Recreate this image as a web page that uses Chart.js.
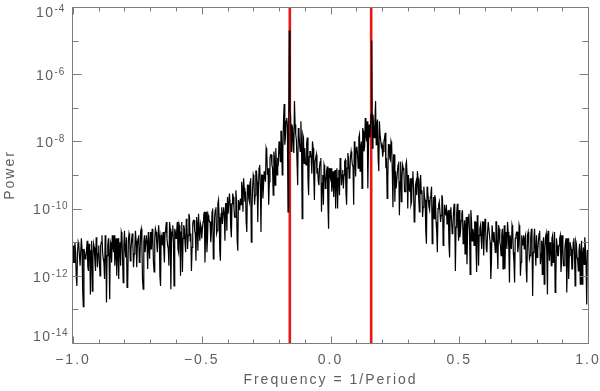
<!DOCTYPE html>
<html>
<head>
<meta charset="utf-8">
<script src="https://cdn.jsdelivr.net/npm/chart.js@4.4.1/dist/chart.umd.min.js"></script>
<style>
html,body{margin:0;padding:0;background:#ffffff;overflow:hidden;}
#wrap{width:600px;height:391px;}
</style>
</head>
<body>
<div id="wrap"><canvas id="c" width="600" height="391"></canvas></div>
<script>
// ---- data ----
const freqStart = -1.0;   // first frequency sample
const freqStep = 0.005;   // spacing of the main frequency grid
// power at f = -1.000, -0.995, ..., 1.000
const powerOnGrid = [
  8e-12, 2.5e-12, 5e-12, 5e-13, 1e-11, 4e-12, 2e-12, 6.3e-12, 1.2e-13, 5e-12,
  3.5e-12, 1.1e-11, 1.4e-12, 7e-12, 5.6e-12, 3.5e-13, 9e-12, 2.8e-12, 1.4e-11, 1.8e-12,
  8e-12, 1e-12, 1e-11, 5e-12, 2.5e-12, 1.6e-11, 1.6e-13, 8e-12, 4e-12, 1e-11,
  2.5e-12, 8e-12, 1.6e-11, 4e-12, 1e-12, 1.3e-11, 8e-12, 2e-12, 1.6e-11, 6.3e-13,
  2.2e-11, 3.5e-12, 4.5e-13, 1.1e-11, 1.4e-11, 5.6e-12, 1.8e-11, 1.8e-12, 7e-12, 1.1e-11,
  8e-12, 1.6e-11, 3.2e-12, 2.5e-11, 8e-13, 1e-11, 5e-12, 1.6e-11, 1.6e-12, 2e-11,
  2e-11, 6.3e-12, 1.3e-11, 1.3e-12, 2.5e-11, 1e-11, 5e-12, 1.6e-11, 5e-13, 1.3e-11,
  2e-11, 2.5e-12, 2.5e-11, 1.3e-11, 6.3e-12, 4e-11, 4e-13, 2e-11, 1e-11, 2.5e-11,
  1.3e-11, 4e-11, 5e-12, 2.5e-11, 2e-11, 1.3e-12, 3.2e-11, 1e-11, 5e-11, 6.3e-12,
  7e-11, 1.1e-11, 1.4e-12, 3.5e-11, 4.5e-11, 1.8e-11, 5.6e-11, 5.6e-12, 2.2e-11, 3.5e-11,
  1.3e-11, 4e-11, 8e-11, 2e-11, 5e-12, 6.3e-11, 4e-11, 1e-11, 8e-11, 3.2e-12,
  5.6e-11, 1.1e-10, 2.2e-11, 1.8e-10, 5.6e-12, 7e-11, 3.5e-11, 1.1e-10, 1.1e-11, 1.4e-10,
  2.2e-10, 7e-11, 1.4e-10, 1.4e-11, 2.8e-10, 1.1e-10, 5.6e-11, 1.8e-10, 5.6e-12, 1.4e-10,
  2e-10, 6.3e-10, 8e-11, 4e-10, 3.2e-10, 2e-11, 5e-10, 1.6e-10, 8e-10, 1e-10,
  1e-9, 1.3e-10, 1.3e-9, 6.3e-10, 3.2e-10, 2e-9, 2e-11, 1e-9, 5e-10, 1.3e-9,
  6.3e-9, 1e-9, 1.3e-10, 3.2e-9, 4e-9, 1.6e-9, 5e-9, 5e-10, 2e-9, 3.2e-9,
  1e-8, 2.5e-9, 2e-8, 5e-9, 1.3e-7, 1.3e-8, 5e-8, 8e-11, 2e-5, 6.3e-8,
  3.2e-8, 1e-8, 1.6e-7, 1.6e-8, 2.5e-9, 2.5e-8, 8e-9, 4e-8, 5e-11, 1.3e-8,
  6.3e-9, 2e-9, 1.3e-8, 2.5e-10, 5e-9, 3.2e-9, 1e-8, 1e-9, 2.5e-9, 4e-9,
  1.6e-9, 5e-10, 2.5e-9, 8e-11, 1e-9, 2e-9, 4e-10, 1.3e-9, 1.3e-10, 1.6e-9,
  8e-10,
  3.2e-10, 1.3e-9, 6.3e-10, 1e-10, 1.6e-9, 8e-10, 2.5e-10, 2e-9, 1e-9, 4e-10,
  2.5e-9, 3.2e-10, 1.6e-9, 3.2e-9, 1e-9, 5e-9, 2e-9, 1.3e-10, 4e-9, 6.3e-9,
  4e-9, 1.3e-8, 1.3e-9, 1e-8, 2.5e-8, 5e-9, 5e-8, 1e-8, 4e-10, 3.2e-8,
  2.5e-8, 1e-5, 6.3e-8, 1.3e-8, 1.6e-7, 3.2e-8, 3.2e-9, 4e-8, 1.6e-8, 8e-9,
  5e-9, 1.3e-8, 1.6e-9, 2e-10, 8e-9, 3.2e-9, 1e-8, 1.3e-9, 4e-9, 1.6e-10,
  4e-10, 1.3e-9, 2.5e-9, 6.3e-10, 1.6e-10, 2e-9, 1.3e-9, 3.2e-10, 2.5e-9, 1e-10,
  4e-10, 8e-10, 1.6e-10, 1.3e-9, 4e-11, 5e-10, 2.5e-10, 8e-10, 8e-11, 1e-9,
  3.5e-10, 1.1e-10, 2.2e-10, 2.2e-11, 4.5e-10, 1.8e-10, 9e-11, 2.8e-10, 9e-12, 2.2e-10,
  2.5e-10, 4e-11, 5e-12, 1.3e-10, 1.6e-10, 6.3e-11, 2e-10, 2e-11, 8e-11, 1.3e-10,
  7e-11, 9e-12, 9e-11, 4.5e-11, 2.2e-11, 1.4e-10, 1.4e-12, 7e-11, 3.5e-11, 9e-11,
  2.2e-11, 7e-11, 9e-12, 4.5e-11, 3.5e-11, 2.2e-12, 5.6e-11, 1.8e-11, 9e-11, 1.1e-11,
  2e-11, 4e-11, 8e-12, 6.3e-11, 2e-12, 2.5e-11, 1.3e-11, 4e-11, 4e-12, 5e-11,
  6.3e-12, 2e-11, 4e-11, 1e-11, 2.5e-12, 3.2e-11, 2e-11, 5e-12, 4e-11, 1.6e-12,
  2.5e-11, 8e-12, 1.6e-11, 1.6e-12, 3.2e-11, 1.3e-11, 6.3e-12, 2e-11, 6.3e-13, 1.6e-11,
  3.2e-11, 5e-12, 6.3e-13, 1.6e-11, 2e-11, 8e-12, 2.5e-11, 2.5e-12, 1e-11, 1.6e-11,
  1.3e-11, 1.6e-12, 1.6e-11, 8e-12, 4e-12, 2.5e-11, 2.5e-13, 1.3e-11, 6.3e-12, 1.6e-11,
  5.6e-12, 1.8e-11, 2.2e-12, 1.1e-11, 9e-12, 5.6e-13, 1.4e-11, 4.5e-12, 2.2e-11, 2.8e-12,
  6.3e-12, 1.3e-11, 2.5e-12, 2e-11, 6.3e-13, 8e-12, 4e-12, 1.3e-11, 1.3e-12, 1.6e-11,
  2e-12, 6.3e-12, 1.3e-11, 3.2e-12, 8e-13, 1e-11, 6.3e-12, 1.6e-12, 1.3e-11, 5e-13,
  9e-12, 2.8e-12, 5.6e-12, 5.6e-13, 1.1e-11, 4.5e-12, 2.2e-12, 7e-12, 1.4e-13, 5.6e-12
];
// power at the half-steps f = -0.9975, -0.9925, ..., 0.9975
const powerHalfGrid = [
  2.5e-12, 1e-11, 1e-12, 5e-12, 8e-12, 2e-12, 1.3e-11, 4e-13, 6.3e-12, 3.2e-12,
  5.6e-12, 1.8e-12, 9e-12, 2.8e-13, 1.1e-11, 3.5e-12, 7e-12, 1.4e-12, 9e-12, 4.5e-12,
  2.5e-12, 8e-12, 1.6e-11, 3.2e-12, 8e-13, 1e-11, 4e-12, 1.3e-11, 2e-13, 8e-12,
  1.6e-11, 5e-12, 2e-12, 1.3e-11, 6.3e-12, 8e-13, 1e-11, 2e-11, 3.2e-12, 8e-12,
  5.6e-12, 1.4e-11, 5.6e-13, 1.8e-11, 2.8e-12, 1.1e-11, 9e-12, 4.5e-12, 2.2e-11, 1.8e-12,
  1.3e-11, 2.5e-12, 2e-11, 8e-12, 4e-13, 1.6e-11, 5e-12, 1e-11, 2e-11, 3.2e-12,
  6.3e-12, 2.5e-11, 2.5e-12, 1.3e-11, 2e-11, 5e-12, 3.2e-11, 1e-12, 1.6e-11, 8e-12,
  6.3e-12, 2e-11, 4e-11, 8e-12, 2e-12, 2.5e-11, 1e-11, 3.2e-11, 5e-13, 2e-11,
  2e-11, 6.3e-12, 3.2e-11, 1e-12, 4e-11, 1.3e-11, 2.5e-11, 5e-12, 3.2e-11, 1.6e-11,
  5.6e-11, 1.8e-11, 7e-12, 4.5e-11, 2.2e-11, 2.8e-12, 3.5e-11, 7e-11, 1.1e-11, 2.8e-11,
  2.5e-11, 6.3e-11, 2.5e-12, 8e-11, 1.3e-11, 5e-11, 4e-11, 2e-11, 1e-10, 8e-12,
  9e-11, 1.8e-11, 1.4e-10, 5.6e-11, 2.8e-12, 1.1e-10, 3.5e-11, 7e-11, 1.4e-10, 2.2e-11,
  7e-11, 2.8e-10, 2.8e-11, 1.4e-10, 2.2e-10, 5.6e-11, 3.5e-10, 1.1e-11, 1.8e-10, 9e-11,
  1.3e-10, 4e-10, 8e-10, 1.6e-10, 4e-11, 5e-10, 2e-10, 6.3e-10, 1e-11, 4e-10,
  8e-10, 2.5e-10, 1.3e-9, 4e-11, 1.6e-9, 5e-10, 1e-9, 2e-10, 1.3e-9, 6.3e-10,
  5e-9, 1.6e-9, 6.3e-10, 4e-9, 2e-9, 2.5e-10, 3.2e-9, 6.3e-9, 1e-9, 2.5e-9,
  6.3e-9, 2e-8, 1e-9, 4e-8, 8e-9, 4e-8, 3.2e-8, 1.6e-8, 8e-8, 5e-9,
  2.5e-8, 4.5e-9, 3.2e-8, 1.1e-8, 5e-10, 1.8e-8, 5e-9, 9e-9, 1.6e-8, 2.2e-9,
  2.5e-9, 9e-9, 8e-10, 3.5e-9, 5e-9, 1.1e-9, 6.3e-9, 1.8e-10, 2.5e-9, 1.1e-9,
  6.3e-10, 1.8e-9, 3.2e-9, 5.6e-10, 1.3e-10, 1.6e-9, 5.6e-10, 1.8e-9, 2.5e-11, 1e-9,
  1.6e-9, 5e-10, 2.2e-10, 1.4e-9, 8e-10, 1e-10, 1.4e-9, 3.2e-9, 5e-10, 1.4e-9,
  1e-9, 2.8e-9, 1.3e-10, 4.5e-9, 8e-10, 3.5e-9, 3.2e-9, 1.8e-9, 1e-8, 9e-10,
  7e-9, 1.6e-9, 1.6e-8, 7e-9, 4e-10, 2e-8, 7e-9, 1.6e-8, 4e-8, 7e-9,
  1.3e-8, 6.3e-8, 6.3e-9, 2.8e-8, 4e-8, 8e-9, 4.5e-8, 1.3e-9, 1.6e-8, 7e-9,
  3.5e-9, 1e-8, 1.8e-8, 3.2e-9, 7e-10, 8e-9, 2.8e-9, 8e-9, 1.1e-10, 4e-9,
  1.3e-9, 4e-10, 2e-9, 6.3e-11, 2.5e-9, 8e-10, 1.6e-9, 3.2e-10, 2e-9, 1e-9,
  1e-9, 3.2e-10, 1.3e-10, 8e-10, 4e-10, 5e-11, 6.3e-10, 1.3e-9, 2e-10, 5e-10,
  2.8e-10, 5.6e-11, 4.5e-10, 1.8e-10, 9e-12, 3.5e-10, 1.1e-10, 2.2e-10, 4.5e-10, 7e-11,
  5e-11, 2e-10, 2e-11, 1e-10, 1.6e-10, 4e-11, 2.5e-10, 8e-12, 1.3e-10, 6.3e-11,
  3.5e-11, 9e-11, 3.5e-12, 1.1e-10, 1.8e-11, 7e-11, 5.6e-11, 2.8e-11, 1.4e-10, 1.1e-11,
  1.4e-11, 4.5e-11, 9e-11, 1.8e-11, 4.5e-12, 5.6e-11, 2.2e-11, 7e-11, 1.1e-12, 4.5e-11,
  2.5e-11, 8e-12, 4e-11, 1.3e-12, 5e-11, 1.6e-11, 3.2e-11, 6.3e-12, 4e-11, 2e-11,
  2.5e-11, 5e-12, 4e-11, 1.6e-11, 8e-13, 3.2e-11, 1e-11, 2e-11, 4e-11, 6.3e-12,
  3.2e-11, 1e-11, 4e-12, 2.5e-11, 1.3e-11, 1.6e-12, 2e-11, 4e-11, 6.3e-12, 1.6e-11,
  6.3e-12, 2.5e-11, 2.5e-12, 1.3e-11, 2e-11, 5e-12, 3.2e-11, 1e-12, 1.6e-11, 8e-12,
  6.3e-12, 1.6e-11, 6.3e-13, 2e-11, 3.2e-12, 1.3e-11, 1e-11, 5e-12, 2.5e-11, 2e-12,
  3.5e-12, 1.1e-11, 2.2e-11, 4.5e-12, 1.1e-12, 1.4e-11, 5.6e-12, 1.8e-11, 2.8e-13, 1.1e-11,
  1e-11, 2e-12, 1.6e-11, 6.3e-12, 3.2e-13, 1.3e-11, 4e-12, 8e-12, 1.6e-11, 2.5e-12,
  6.3e-12, 2e-12, 1e-11, 3.2e-13, 1.3e-11, 4e-12, 8e-12, 1.6e-12, 1e-11, 5e-12,
  1.1e-11, 3.5e-12, 1.4e-12, 9e-12, 4.5e-12, 5.6e-13, 7e-12, 1.4e-11, 2.2e-12, 5.6e-12
];
const markerFreqs = [-0.158, 0.158];          // red vertical lines
const xTickValues = [-1, -0.5, 0, 0.5, 1];
const xTickLabels = ['\u22121.0', '\u22120.5', '0.0', '0.5', '1.0'];
const yTickExponents = [-4, -6, -8, -10, -12, -14];
const yMin = 1e-14, yMax = 1e-4;
const xTitleText = 'Frequency = 1/Period';
const yTitleText = 'Power';

// ---- styling ----
const axisColor = '#7c7c7c';
const textColor = '#5e5e5e';
const fontFamily = '"Liberation Sans", Arial, Helvetica, sans-serif';

// interleave the grid and half-step samples in frequency order
const spectrum = [];
powerOnGrid.forEach((p, i) => {
  const f = freqStart + i * freqStep;
  spectrum.push({ x: f, y: p });
  if (i < powerHalfGrid.length) spectrum.push({ x: f + freqStep / 2, y: powerHalfGrid[i] });
});

const markerSets = markerFreqs.map(f => ({
  data: [{ x: f, y: yMin }, { x: f, y: yMax }],
  borderColor: 'rgb(228,24,24)',
  borderWidth: 2.6,
  pointRadius: 0,
  fill: false
}));

const idlAxes = {
  id: 'idlAxes',
  beforeDraw(chart) {
    chart.ctx.letterSpacing = '2px';
  },
  afterDraw(chart) {
    const { ctx, chartArea: a, scales: { x, y } } = chart;
    ctx.save();
    ctx.letterSpacing = '0px';
    ctx.strokeStyle = axisColor;
    ctx.lineWidth = 1;
    const L = Math.round(a.left) - 0.5, R = Math.round(a.right) + 0.5;
    const T = Math.round(a.top) + 0.5, B = Math.round(a.bottom) + 0.5;
    ctx.beginPath();
    ctx.rect(L, T, R - L, B - T);
    for (let i = -10; i <= 10; i++) {
      const px = Math.round(x.getPixelForValue(i / 10)) + 0.5;
      const len = (i % 5 === 0) ? 7 : 4;
      ctx.moveTo(px, B); ctx.lineTo(px, B - len);
      ctx.moveTo(px, T); ctx.lineTo(px, T + len);
    }
    for (let e = -14; e <= -4; e++) {
      const py = Math.round(y.getPixelForValue(Math.pow(10, e))) + 0.5;
      const len = (e % 2 === 0) ? 9 : 6;
      ctx.moveTo(L, py); ctx.lineTo(L + len, py);
      ctx.moveTo(R, py); ctx.lineTo(R - len, py);
    }
    ctx.stroke();
    ctx.fillStyle = textColor;
    ctx.textBaseline = 'middle';
    yTickExponents.forEach(e => {
      const py = y.getPixelForValue(Math.pow(10, e));
      let cy = py + 2;
      if (e === -4) cy = py + 6;
      if (e === -14) cy = py - 6;
      const baseRight = Math.abs(e) >= 10 ? 50 : 53;
      ctx.letterSpacing = '1.5px';
      ctx.font = '14px ' + fontFamily;
      ctx.textAlign = 'right';
      ctx.fillText('10', baseRight + 1.5, cy);
      ctx.letterSpacing = '0.8px';
      ctx.font = '10px ' + fontFamily;
      ctx.textAlign = 'left';
      ctx.fillText('-' + Math.abs(e), baseRight + 1.5, cy - 4);
    });
    ctx.restore();
  }
};

new Chart(document.getElementById('c'), {
  type: 'line',
  data: {
    datasets: [
      {
        data: spectrum,
        borderColor: '#000000',
        borderWidth: 1.2,
        pointRadius: 0,
        tension: 0,
        fill: false
      },
      ...markerSets
    ]
  },
  options: {
    responsive: false,
    devicePixelRatio: 1,
    animation: false,
    events: [],
    layout: { padding: { top: 7, right: 12, bottom: 0, left: 0 } },
    plugins: { legend: { display: false }, tooltip: { enabled: false } },
    scales: {
      x: {
        type: 'linear',
        min: -1,
        max: 1,
        grid: { display: false, drawTicks: false },
        border: { display: false },
        afterBuildTicks: s => { s.ticks = xTickValues.map(v => ({ value: v })); },
        afterFit: s => { s.height = 48; s.paddingLeft = 0; s.paddingRight = 0; },
        ticks: {
          autoSkip: false,
          maxRotation: 0,
          padding: 9,
          color: textColor,
          font: { family: fontFamily, size: 14 },
          callback: v => {
            const k = xTickValues.indexOf(v);
            return k >= 0 ? xTickLabels[k] : '';
          }
        },
        title: {
          display: true,
          text: xTitleText,
          color: textColor,
          font: { family: fontFamily, size: 14 },
          padding: { top: 0, bottom: 2 }
        }
      },
      y: {
        type: 'logarithmic',
        min: yMin,
        max: yMax,
        grid: { display: false, drawTicks: false },
        border: { display: false },
        ticks: { display: false },
        afterFit: s => { s.width = 73; s.paddingTop = 0; s.paddingBottom = 0; },
        title: {
          display: true,
          text: yTitleText,
          color: textColor,
          font: { family: fontFamily, size: 14 },
          padding: { top: 2, bottom: 0 }
        }
      }
    }
  },
  plugins: [idlAxes]
});
</script>
</body>
</html>
